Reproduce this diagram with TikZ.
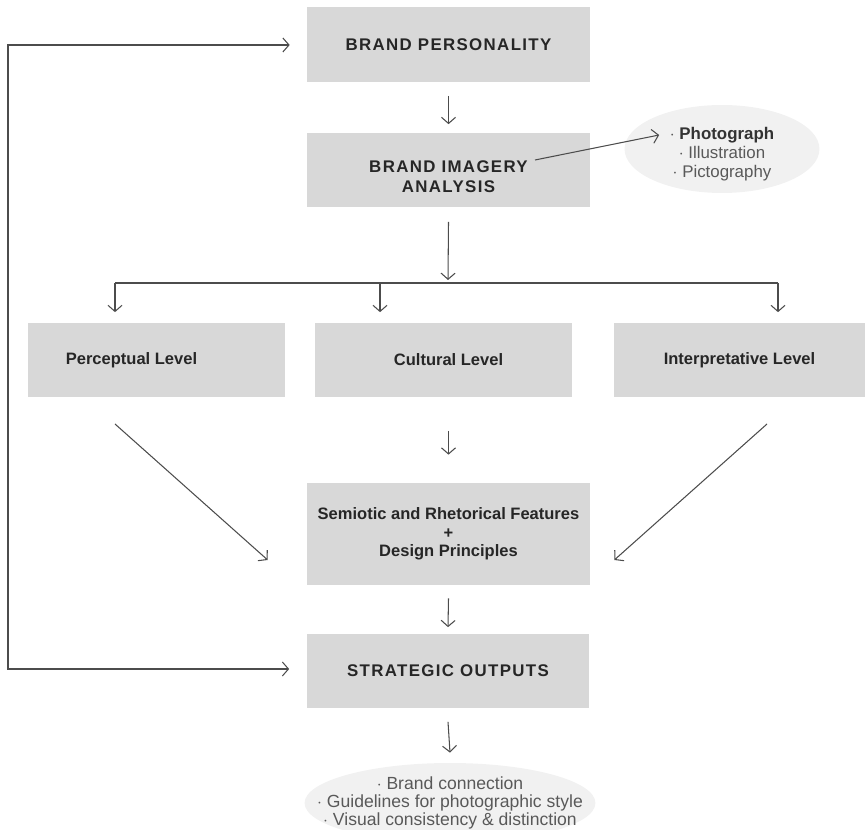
\documentclass[tikz,border=0pt]{standalone}
\usepackage{fontspec}
\setmainfont{Liberation Sans}
\newfontfamily\titulo[LetterSpace=8]{Liberation Sans}
\usetikzlibrary{arrows.meta,shapes.geometric}

\definecolor{gris}{HTML}{D8D8D8}
\definecolor{grisclaro}{HTML}{F1F1F1}

\tikzset{
  caja/.style={fill=gris, minimum width=5.66cm, minimum height=1.5cm, align=center,
    text=black!85, font=\bfseries\fontsize{9.4}{10.6}\selectfont},
  titulo/.style={caja, font=\titulo\bfseries\fontsize{9.6}{11.4}\selectfont},
  nivel/.style={caja, minimum width=5.14cm},
  burbuja/.style={ellipse, fill=grisclaro, align=center, inner xsep=-0.6cm, inner ysep=-0.1cm, text=black!65},
  flecha/.style={-{Straight Barb[length=3.5pt,width=8pt]}, draw=black!70, line width=0.6pt}
}

\begin{document}
\begin{tikzpicture}[x=0.02cm, y=-0.02cm]

% Marco
\useasboundingbox (0,0) rectangle (865,830);

% Cajas principales
\node[titulo] (personalidad) at (448.5,45) {BRAND PERSONALITY};
\node[titulo] (imagen) at (448.5,170) {\rule{0pt}{14pt}BRAND IMAGERY\\ANALYSIS};

% Niveles
\node[nivel] (perceptual) at (156.5,360) {Perceptual Level\hspace*{1cm}};
\node[nivel] (cultural) at (443.5,360) {\hspace*{0.2cm}Cultural Level};
\node[nivel, minimum width=5.02cm] (interpretativo) at (739.5,360) {Interpretative Level};

% Rasgos y salidas
\node[caja, minimum height=2.04cm] (semiotico) at (448.5,534)
  {Semiotic and Rhetorical Features\\+\\Design Principles};
\node[titulo] (salidas) at (448,671) {STRATEGIC OUTPUTS};

% Elipses
\node[burbuja, minimum width=3.9cm, minimum height=1.76cm, font=\fontsize{9.6}{10.8}\selectfont] (tipos) at (722,149)
  {\rule{0pt}{13pt}$\cdot$ \textbf{\color{black!80}Photograph}\\$\cdot$ Illustration\\$\cdot$ Pictography};
\node[burbuja, minimum width=5.7cm, minimum height=1.6cm, font=\fontsize{10}{10.4}\selectfont] (resultados) at (450,803)
  {$\cdot$ Brand connection\\$\cdot$ Guidelines for photographic style\\$\cdot$ Visual consistency \& distinction};

% Puntos de apoyo
\coordinate (retorno) at (8,357);
\coordinate (rama) at (448,283);
\coordinate (ramaizq) at (115,283);
\coordinate (ramamed) at (380,283);
\coordinate (ramader) at (778,283);
\coordinate (texto) at (535,160);
\coordinate (salizq) at (115,424);
\coordinate (salder) at (767,424);

% Flechas
\draw[flecha] (retorno) |- ([xshift=-0.34cm]personalidad.west);
\draw[flecha] (retorno) |- ([xshift=-0.34cm,yshift=0.04cm]salidas.west);
\draw[flecha] ([yshift=-0.26cm]personalidad.south) -- ([yshift=0.16cm]imagen.north);
\draw[flecha] (texto) -- ([xshift=0.7cm,yshift=0.28cm]tipos.west);
\draw[flecha] ([yshift=-0.28cm]imagen.south) -- ([yshift=0.06cm]rama);
\draw[draw=black!70, line width=0.6pt] (ramaizq) -- (ramader);
\draw[flecha] (ramaizq) -- ([yshift=0.2cm]perceptual.north -| ramaizq);
\draw[flecha] (ramamed) -- ([yshift=0.2cm]cultural.north -| ramamed);
\draw[flecha] (ramader) -- ([yshift=0.2cm]interpretativo.north -| ramader);
\draw[flecha] (salizq) -- ([xshift=-0.78cm,yshift=-0.52cm]semiotico.west);
\draw[flecha] ([yshift=-0.66cm]cultural.south -| semiotico) -- ([yshift=0.56cm]semiotico.north);
\draw[flecha] (salder) -- ([xshift=0.48cm,yshift=-0.52cm]semiotico.east);
\draw[flecha] ([yshift=-0.26cm]semiotico.south) -- ([yshift=0.12cm]salidas.north);
\draw[flecha] ([yshift=-0.26cm]salidas.south) -- ([yshift=0.2cm]resultados.north);

\end{tikzpicture}
\end{document}
